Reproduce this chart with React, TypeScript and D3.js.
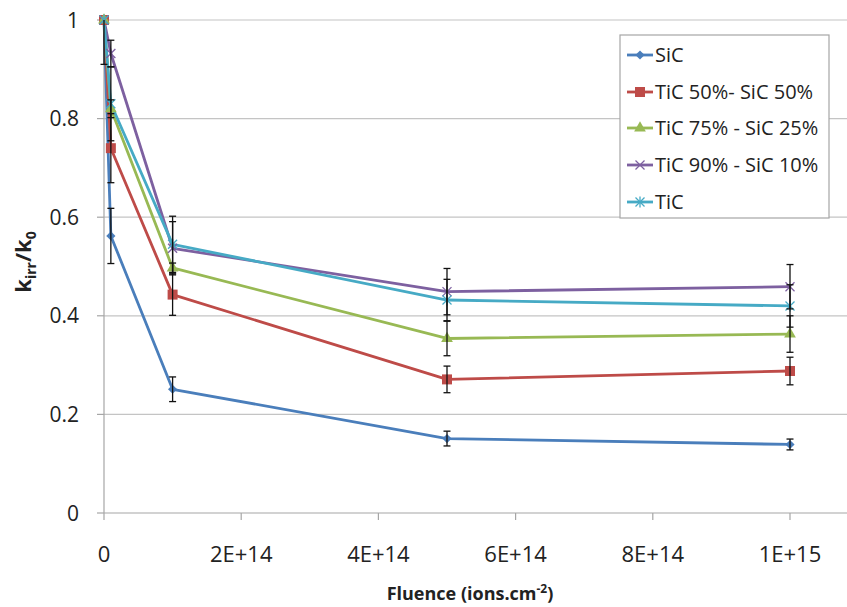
import React from "react";
import * as d3 from "d3";

// ---- data ----
const FLUENCE = [0, 1e13, 1e14, 5e14, 1e15];
const SERIES_NAMES = ["SiC", "TiC 50%- SiC 50%", "TiC 75% - SiC 25%", "TiC 90% - SiC 10%", "TiC"];
const SIC = [1.0, 0.562, 0.251, 0.151, 0.139];
const TIC50 = [1.0, 0.74, 0.443, 0.271, 0.288];
const TIC75 = [1.0, 0.82, 0.497, 0.354, 0.363];
const TIC90 = [1.0, 0.932, 0.537, 0.449, 0.459];
const TIC = [1.0, 0.83, 0.545, 0.432, 0.42];
const ERR_SIC = [0.09, 0.056, 0.025, 0.015, 0.011];
const ERR_TIC50 = [0, 0.07, 0.042, 0.027, 0.028];
const ERR_TIC75 = [0, 0.018, 0.01, 0.035, 0.037];
const ERR_TIC90 = [0, 0.027, 0.054, 0.047, 0.045];
const ERR_TIC = [0, 0.075, 0.057, 0.042, 0.043];
const Y_TICKS = [0, 0.2, 0.4, 0.6, 0.8, 1];
const Y_TICK_LABELS = ["0", "0.2", "0.4", "0.6", "0.8", "1"];
const X_TICKS = [0, 2e14, 4e14, 6e14, 8e14, 1e15];
const X_TICK_LABELS = ["0", "2E+14", "4E+14", "6E+14", "8E+14", "1E+15"];

const COLORS = ["#4A7EBB", "#BE4B48", "#98B954", "#7D60A0", "#46AAC5"];
const MARKERS = ["diamond", "square", "triangle", "x", "star"];

const W = 847, H = 607;
const FONT = "'Open Sans', sans-serif";

function Marker({ type, x, y, color }: { type: string; x: number; y: number; color: string }) {
  if (type === "diamond") {
    const p = d3.symbol().type(d3.symbolSquare).size(42)();
    return <path d={p!} transform={`translate(${x},${y}) rotate(45)`} fill={color} />;
  }
  if (type === "square") {
    const p = d3.symbol().type(d3.symbolSquare).size(100)();
    return <path d={p!} transform={`translate(${x},${y})`} fill={color} />;
  }
  if (type === "triangle") {
    const p = d3.symbol().type(d3.symbolTriangle).size(60)();
    return <path d={p!} transform={`translate(${x},${y})`} fill={color} />;
  }
  const r = 4.5;
  return (
    <g stroke={color} strokeWidth={1.3}>
      <line x1={x - r} y1={y - r} x2={x + r} y2={y + r} />
      <line x1={x - r} y1={y + r} x2={x + r} y2={y - r} />
      {type === "star" && <line x1={x} y1={y - r - 1} x2={x} y2={y + r + 1} />}
    </g>
  );
}

export default function App() {
  const x = d3.scaleLinear().domain([0, 1e15]).range([104, 790]);
  const y = d3.scaleLinear().domain([0, 1]).range([513, 20]);
  const plotRight = 847;

  const seriesVals = [SIC, TIC50, TIC75, TIC90, TIC];
  const seriesErr = [ERR_SIC, ERR_TIC50, ERR_TIC75, ERR_TIC90, ERR_TIC];
  const line = d3
    .line<number>()
    .x((_, i) => x(FLUENCE[i]))
    .y((d) => y(d));

  const legendX = 620, legendY = 35, legendW = 209, legendH = 183;
  const legendRowY = [55, 92, 128, 165, 202];

  return (
    <svg
      width={W}
      height={H}
      style={{ position: "absolute", left: 0, top: 0, background: "#fff" }}
      fontFamily={FONT}
    >
      <defs>
        <clipPath id="plotclip">
          <rect x={x(0) - 10} y={y(1)} width={plotRight - x(0) + 10} height={y(0) - y(1)} />
        </clipPath>
      </defs>
      {/* gridlines */}
      {Y_TICKS.filter((t) => t > 0).map((t) => (
        <line key={t} x1={x(0)} x2={plotRight} y1={y(t)} y2={y(t)} stroke="#c4c4c4" strokeWidth={1.2} />
      ))}
      {/* axes */}
      <line x1={x(0)} x2={x(0)} y1={y(1)} y2={y(0)} stroke="#a6a6a6" strokeWidth={1.2} />
      <line x1={x(0)} x2={plotRight} y1={y(0)} y2={y(0)} stroke="#a6a6a6" strokeWidth={1.2} />
      {Y_TICKS.map((t) => (
        <line key={t} x1={x(0) - 7} x2={x(0)} y1={y(t)} y2={y(t)} stroke="#a6a6a6" strokeWidth={1.2} />
      ))}
      {X_TICKS.map((t) => (
        <line key={t} x1={x(t)} x2={x(t)} y1={y(0)} y2={y(0) + 7} stroke="#a6a6a6" strokeWidth={1.2} />
      ))}
      {/* tick labels */}
      {Y_TICKS.map((t, i) => (
        <text key={t} x={79} y={y(t)} dy="0.36em" textAnchor="end" fontSize={21} fill="#222">
          {Y_TICK_LABELS[i]}
        </text>
      ))}
      {X_TICKS.map((t, i) => (
        <text key={t} x={x(t)} y={562} textAnchor="middle" fontSize={22} fill="#222">
          {X_TICK_LABELS[i]}
        </text>
      ))}
      {/* axis titles */}
      <text transform={`translate(31,262) rotate(-90)`} textAnchor="middle" fontSize={22} fontWeight="bold" fill="#222">
        k<tspan fontSize={14} dy={5}>irr</tspan>
        <tspan dy={-5}>/k</tspan>
        <tspan fontSize={14} dy={5}>0</tspan>
      </text>
      <text x={470} y={600} textAnchor="middle" fontSize={18} fontWeight="bold" fill="#222">
        Fluence (ions.cm<tspan fontSize={12} dy={-7}>-2</tspan>
        <tspan dy={7}>)</tspan>
      </text>
      {/* series lines */}
      {seriesVals.map((vals, s) => (
        <path key={s} d={line(vals)!} fill="none" stroke={COLORS[s]} strokeWidth={2.8} strokeLinejoin="round" />
      ))}
      {/* markers */}
      {seriesVals.map((vals, s) =>
        vals.map((v, i) => <Marker key={`${s}-${i}`} type={MARKERS[s]} x={x(FLUENCE[i])} y={y(v)} color={COLORS[s]} />)
      )}
      {/* error bars */}
      <g clipPath="url(#plotclip)" stroke="#111" strokeWidth={1.3}>
        {seriesVals.map((vals, s) =>
          vals.map((v, i) => {
            const e = seriesErr[s][i];
            if (!e) return null;
            const cx = x(FLUENCE[i]);
            const y1 = y(v + e), y2 = y(v - e);
            return (
              <g key={`e${s}-${i}`}>
                <line x1={cx} x2={cx} y1={y1} y2={y2} />
                <line x1={cx - 3.5} x2={cx + 3.5} y1={y1} y2={y1} />
                <line x1={cx - 3.5} x2={cx + 3.5} y1={y2} y2={y2} />
              </g>
            );
          })
        )}
      </g>
      {/* legend */}
      <rect x={legendX} y={legendY} width={legendW} height={legendH} fill="#fff" stroke="#a6a6a6" strokeWidth={1.2} />
      {SERIES_NAMES.map((name, s) => (
        <g key={name}>
          <line x1={627} x2={653} y1={legendRowY[s]} y2={legendRowY[s]} stroke={COLORS[s]} strokeWidth={2.8} />
          <Marker type={MARKERS[s]} x={640} y={legendRowY[s]} color={COLORS[s]} />
          <text x={655} y={legendRowY[s]} dy="0.36em" fontSize={20} fill="#222">
            {name}
          </text>
        </g>
      ))}
    </svg>
  );
}
